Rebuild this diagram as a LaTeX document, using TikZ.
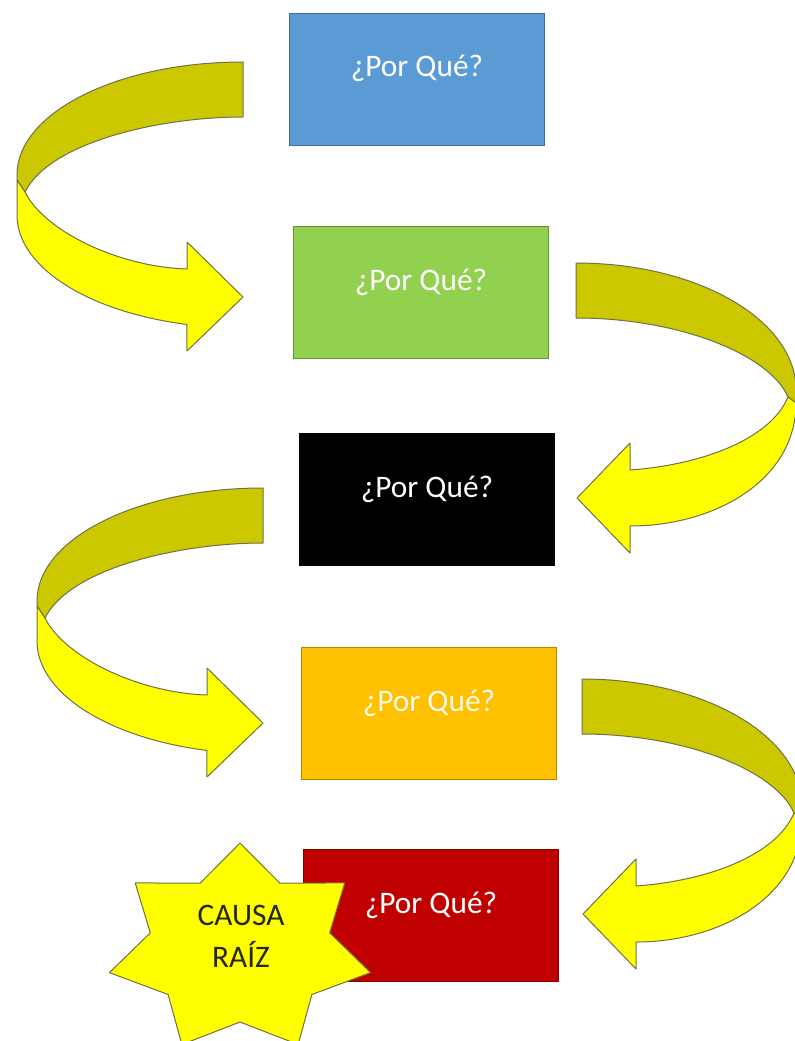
\documentclass[tikz,border=0pt]{standalone}
\usepackage{fontspec}
\setmainfont{Carlito}
\usetikzlibrary{calc}
\definecolor{qblue}{RGB}{91,155,213}
\definecolor{qgreen}{RGB}{146,208,80}
\definecolor{qblack}{RGB}{0,0,0}
\definecolor{qgold}{RGB}{255,192,0}
\definecolor{qred}{RGB}{192,0,0}
\definecolor{bandback}{RGB}{204,200,0}
\definecolor{bandfront}{RGB}{255,255,0}
\definecolor{bandline}{RGB}{112,112,72}
\definecolor{rootink}{RGB}{38,38,20}
\begin{document}
\begin{tikzpicture}[x=0.75pt,y=-0.75pt,
  whybox/.style={draw=#1!70!black, fill=#1, line width=0.75pt,
    minimum width=191.25pt, minimum height=99pt, anchor=north west, inner sep=0pt},
  whytext/.style={anchor=base, text=white, inner sep=0pt,
    font=\fontsize{23.5pt}{28pt}\selectfont},
  backband/.style={fill=bandback, draw=bandline, line width=0.75pt, line join=round},
  frontband/.style={fill=bandfront, draw=bandline, line width=0.75pt, line join=round},
  rootstar/.style={fill=bandfront, draw=bandline, line width=0.75pt, line join=round},
  roottext/.style={anchor=base, text=rootink, inner sep=0pt,
    font=\fontsize{23.5pt}{28pt}\selectfont}]

\useasboundingbox (0,0) rectangle (795,1041);
\clip (0,0) rectangle (795,1041);

% origins of the curved ribbon arrows
\coordinate (la1) at (243,62);
\coordinate (ra1) at (576,263);
\coordinate (la2) at (263,488);
\coordinate (ra2) at (582,679);

% ribbon arrows turning on the left side
\foreach \o in {la1,la2}{
  \begin{scope}[shift={(\o)}]
    \path[backband] (0,0) arc[start angle=270, end angle=180, x radius=226, y radius=113]
      -- (-226,118) -- (-218,130) .. controls (-193,80) and (-83,55) .. (0,55) -- cycle;
    \path[frontband] (-218,130) -- (-226,118) -- (-226,153)
      arc[start angle=180, end angle=104.4, x radius=226, y radius=113]
      -- (-56,289) -- (0,235) -- (-56,180) -- (-56,207)
      .. controls (-123,205) and (-198,170) .. (-218,130) -- cycle;
  \end{scope}
}

% ribbon arrows turning on the right side
\foreach \o in {ra1,ra2}{
  \begin{scope}[shift={(\o)}]
    \path[backband] (0,0) arc[start angle=270, end angle=360, x radius=220, y radius=127]
      -- (220,140) -- (212,134) .. controls (194,92) and (104,55) .. (0,55) -- cycle;
    \path[frontband] (212,134) -- (220,140) .. controls (220,217) and (139,263) .. (54,263)
      -- (54,290) -- (1,235) -- (54,180) -- (54,207)
      .. controls (124,202) and (194,177) .. (212,134) -- cycle;
  \end{scope}
}

% the five question boxes
\node[whybox=qblue]  (b1) at (289,13)  {};
\node[whybox=qgreen] (b2) at (293,226) {};
\node[whybox=qblack] (b3) at (299,433) {};
\node[whybox=qgold]  (b4) at (301,647) {};
\node[whybox=qred]   (b5) at (303,849) {};

\node[whytext] (t1) at ($(b1.north)+(0,64)$) {¿Por Qué?};
\node[whytext] (t2) at ($(b2.north)+(0,64)$) {¿Por Qué?};
\node[whytext] (t3) at ($(b3.north)+(0,64)$) {¿Por Qué?};
\node[whytext, text=white!92!qgold] (t4) at ($(b4.north)+(0,64)$) {¿Por Qué?};
\node[whytext] (t5) at ($(b5.north)+(0,64)$) {¿Por Qué?};

% seven-pointed star for the root cause
\path[rootstar] (240,843) -- (200.1,883.2) -- (135.2,882.9) -- (150.3,932.8)
  -- (109.4,972.6) -- (168.1,994.5) -- (181.9,1044.5) -- (240,1022)
  -- (298.1,1044.5) -- (311.9,994.5) -- (370.6,972.6) -- (329.7,932.8)
  -- (344.8,882.9) -- (279.9,883.2) -- cycle;
\node[roottext] (root1) at (241,925) {CAUSA};
\node[roottext] (root2) at (241,967) {RAÍZ};
\end{tikzpicture}
\end{document}
